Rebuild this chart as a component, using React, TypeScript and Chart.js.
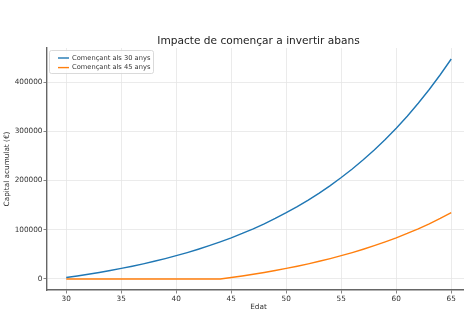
import React, { useEffect, useRef } from "react";
import { Chart, registerables } from "chart.js";

Chart.register(...registerables);

const titleText = "Impacte de començar a invertir abans";
const xLabel = "Edat";
const yLabel = "Capital acumulat (€)";
const seriesNames = ["Començant als 30 anys", "Començant als 45 anys"];

const ages = [30, 31, 32, 33, 34, 35, 36, 37, 38, 39, 40, 41, 42, 43, 44, 45, 46, 47, 48, 49, 50, 51, 52, 53, 54, 55, 56, 57, 58, 59, 60, 61, 62, 63, 64, 65];
const capital30 = [3000, 6210, 9643, 13320, 17254, 21459, 25963, 30780, 35935, 41451, 47353, 53665, 60420, 67650, 75386, 83666, 92520, 101996, 112136, 122987, 134597, 147017, 160307, 174531, 189746, 206031, 223453, 242091, 262042, 283385, 306218, 330655, 356798, 384773, 414711, 446738];
const capital45 = [0, 0, 0, 0, 0, 0, 0, 0, 0, 0, 0, 0, 0, 0, 0, 3000, 6210, 9643, 13320, 17254, 21459, 25963, 30780, 35935, 41451, 47353, 53665, 60420, 67650, 75386, 83666, 92520, 101996, 112136, 122987, 134597];

const xTicks = [30, 35, 40, 45, 50, 55, 60, 65];
const yTicks = [0, 100000, 200000, 300000, 400000];

const colors = ["#1f77b4", "#ff7f0e"];
const FONT = "'DejaVu Sans', sans-serif";

const overlayPlugin = {
  id: "overlay",
  afterDraw(chart: any) {
    const ctx = chart.ctx;
    const ca = chart.chartArea;
    const cx = (ca.left + 470) / 2;
    ctx.save();
    // title
    ctx.fillStyle = "#222";
    ctx.font = `10.6px ${FONT}`;
    ctx.textAlign = "center";
    ctx.textBaseline = "middle";
    ctx.fillText(titleText, cx, 41);
    // x label
    ctx.font = `7.3px ${FONT}`;
    ctx.fillStyle = "#333";
    ctx.fillText(xLabel, cx, 307);
    // y label
    ctx.save();
    ctx.translate(7, (ca.top + ca.bottom) / 2);
    ctx.rotate(-Math.PI / 2);
    ctx.fillText(yLabel, 0, 0);
    ctx.restore();
    // legend
    const lx = 49.5, ly = 50.5, lw = 104, lh = 23;
    ctx.fillStyle = "rgba(255,255,255,0.85)";
    ctx.strokeStyle = "#d0d0d0";
    ctx.lineWidth = 0.8;
    ctx.beginPath();
    ctx.roundRect(lx, ly, lw, lh, 2);
    ctx.fill();
    ctx.stroke();
    ctx.font = `6.7px ${FONT}`;
    ctx.textAlign = "left";
    seriesNames.forEach((name, i) => {
      const y = 58 + i * 9.6;
      ctx.strokeStyle = colors[i];
      ctx.lineWidth = 1.4;
      ctx.beginPath();
      ctx.moveTo(58, y);
      ctx.lineTo(69, y);
      ctx.stroke();
      ctx.fillStyle = "#333";
      ctx.fillText(name, 72, y);
    });
    ctx.restore();
  },
};

export default function App() {
  const ref = useRef<HTMLCanvasElement | null>(null);
  useEffect(() => {
    if (!ref.current) return;
    const chart = new Chart(ref.current, {
      type: "line",
      data: {
        datasets: [
          {
            label: seriesNames[0],
            data: ages.map((a, i) => ({ x: a, y: capital30[i] })),
            borderColor: colors[0],
            backgroundColor: colors[0],
            borderWidth: 1.4,
            pointRadius: 0,
            tension: 0,
          },
          {
            label: seriesNames[1],
            data: ages.map((a, i) => ({ x: a, y: capital45[i] })),
            borderColor: colors[1],
            backgroundColor: colors[1],
            borderWidth: 1.4,
            pointRadius: 0,
            tension: 0,
          },
        ],
      },
      options: {
        animation: false,
        responsive: false,
        maintainAspectRatio: false,
        layout: { padding: { top: 48, left: 0, right: 0, bottom: 0 } },
        plugins: {
          legend: { display: false },
          title: { display: false },
          tooltip: { enabled: false },
        },
        scales: {
          x: {
            type: "linear",
            min: 28.25,
            max: 66.16,
            afterBuildTicks: (s: any) => {
              s.ticks = xTicks.map((v) => ({ value: v }));
            },
            afterFit: (s: any) => {
              s.height = 26;
            },
            grid: { color: "#e6e6e6", lineWidth: 0.8, tickColor: "#666", tickLength: 3.5 },
            border: { color: "#666", width: 1.4 },
            ticks: {
              font: { family: FONT, size: 7.3 },
              color: "#333",
              padding: 1,
              maxRotation: 0,
              autoSkip: false,
              callback: (v: any) => String(v),
            },
          },
          y: {
            type: "linear",
            min: -22337,
            max: 469075,
            afterBuildTicks: (s: any) => {
              s.ticks = yTicks.map((v) => ({ value: v }));
            },
            afterFit: (s: any) => {
              s.width = 47;
            },
            grid: { color: "#e6e6e6", lineWidth: 0.8, tickColor: "#666", tickLength: 3.5 },
            border: { color: "#666", width: 1.4 },
            ticks: {
              font: { family: FONT, size: 7.3 },
              color: "#333",
              padding: 1,
              autoSkip: false,
              callback: (v: any) => String(v),
            },
          },
        },
      },
      plugins: [overlayPlugin],
    });
    return () => chart.destroy();
  }, []);
  return (
    <div style={{ position: "absolute", left: 0, top: 0, width: 464, height: 316, background: "#fff" }}>
      <canvas ref={ref} width={464} height={316} style={{ display: "block" }} />
    </div>
  );
}
